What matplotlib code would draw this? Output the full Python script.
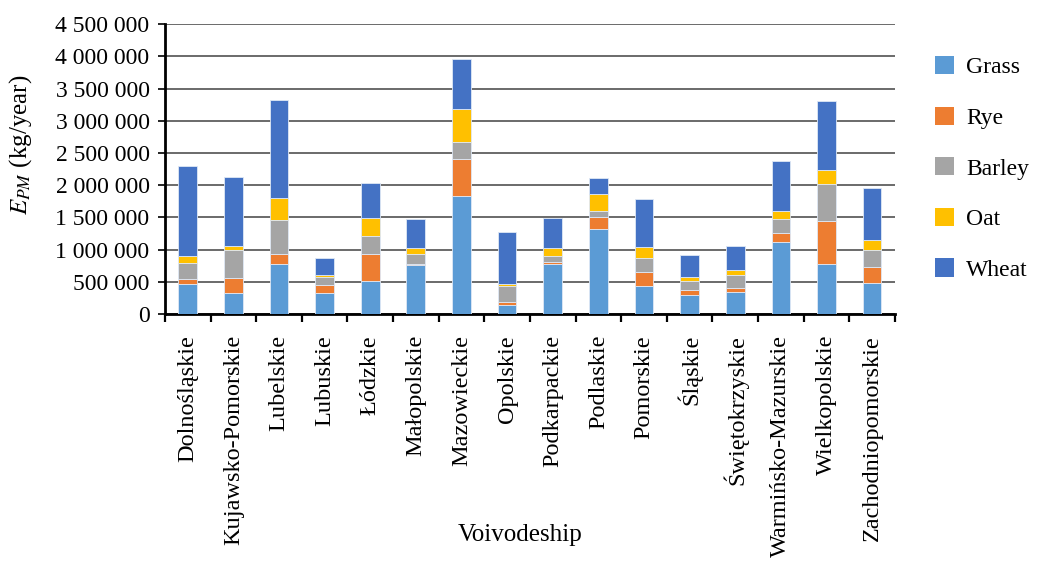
import matplotlib
matplotlib.use("Agg")
import matplotlib.pyplot as plt
import numpy as np
from matplotlib.ticker import FuncFormatter, FixedLocator
from matplotlib.patches import Patch

plt.rcParams['font.family'] = ['Liberation Serif', 'DejaVu Serif']
plt.rcParams['mathtext.fontset'] = 'stix'

voivodeships = ["Dolnośląskie", "Kujawsko-Pomorskie", "Lubelskie", "Lubuskie", "Łódzkie",
                "Małopolskie", "Mazowieckie", "Opolskie", "Podkarpackie", "Podlaskie",
                "Pomorskie", "Śląskie", "Świętokrzyskie", "Warmińsko-Mazurskie",
                "Wielkopolskie", "Zachodniopomorskie"]

grass = [464000, 325000, 773000, 325000, 515000, 763000, 1830000, 144000, 773000, 1325000,
         443000, 299000, 345000, 1124000, 784000, 490000]
rye = [82000, 232000, 155000, 123000, 413000, 21000, 572000, 42000, 36000, 180000,
       212000, 82000, 57000, 129000, 659000, 242000]
barley = [248000, 433000, 531000, 129000, 283000, 149000, 263000, 252000, 98000, 98000,
          216000, 134000, 206000, 216000, 578000, 268000]
oat = [103000, 67000, 345000, 36000, 284000, 88000, 526000, 26000, 114000, 263000,
       165000, 67000, 78000, 139000, 221000, 144000]
wheat = [1397000, 1072000, 1526000, 258000, 541000, 448000, 763000, 809000, 464000, 247000,
         748000, 330000, 371000, 763000, 1067000, 815000]

series = [("Grass", grass, "#5B9BD5"),
          ("Rye", rye, "#ED7D31"),
          ("Barley", barley, "#A5A5A5"),
          ("Oat", oat, "#FFC000"),
          ("Wheat", wheat, "#4472C4")]

fig = plt.figure(figsize=(10.37, 5.62), dpi=100)
ax = fig.add_axes([0.159, 0.441, 0.704, 0.516])

x = np.arange(len(voivodeships))
bottom = np.zeros(len(voivodeships))
handles = []
for name, vals, col in series:
    vals = np.array(vals, dtype=float)
    ax.bar(x, vals, 0.41, bottom=bottom, color=col, edgecolor="#dfe8f5",
           linewidth=0.6, zorder=3)
    bottom += vals
    handles.append(Patch(facecolor=col, edgecolor='none', label=name))

ax.set_xlim(-0.5, len(voivodeships) - 0.5)
ax.set_ylim(0, 4500000)
ax.set_yticks(np.arange(0, 4500001, 500000))
ax.yaxis.set_major_formatter(FuncFormatter(lambda v, p: f"{int(v):,}".replace(",", " ")))
ax.grid(axis='y', color='#6a6a6a', linewidth=1.4, zorder=0)
ax.set_axisbelow(True)

ax.set_xticks(x)
ax.set_xticklabels(voivodeships, rotation=90, fontsize=17.5)
ax.xaxis.set_minor_locator(FixedLocator(np.arange(-0.5, len(voivodeships), 1.0)))
ax.tick_params(axis='x', which='major', length=0, pad=15)
ax.tick_params(axis='x', which='minor', length=6, width=1.6, direction='out', color='black')
ax.tick_params(axis='y', length=5, width=1.2, labelsize=17, pad=6)

for s in ['top', 'right']:
    ax.spines[s].set_visible(False)
for s in ['left', 'bottom']:
    ax.spines[s].set_linewidth(2)
    ax.spines[s].set_color('black')

fig.text(0.02, 0.742, r"$E_{PM}$ (kg/year)", fontsize=18, rotation=90,
         ha='center', va='center')
fig.text(0.502, 0.048, "Voivodeship", fontsize=18, ha='center', va='center')

fig.legend(handles=handles, loc='upper left', bbox_to_anchor=(0.902, 0.9),
           frameon=False, fontsize=17, handlelength=0.8, handleheight=0.8,
           labelspacing=1.2, handletextpad=0.5, borderaxespad=0, borderpad=0)

fig.savefig("out.png", dpi=100)
